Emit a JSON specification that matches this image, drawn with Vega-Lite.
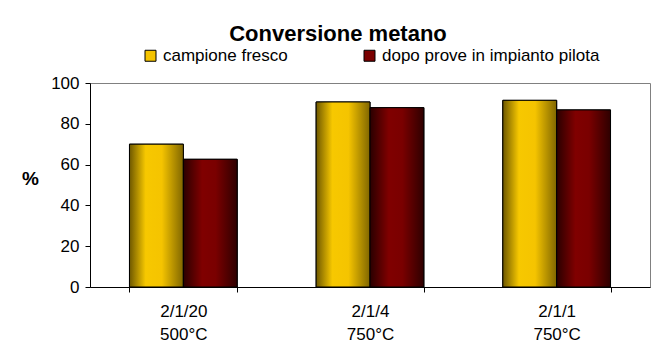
{
  "$schema": "https://vega.github.io/schema/vega-lite/v6.json",
  "width": 560,
  "height": 204,
  "autosize": {"type": "none"},
  "padding": {"left": 90, "top": 83, "right": 8, "bottom": 62},
  "background": "white",
  "title": {
    "text": "Conversione metano",
    "fontSize": 22,
    "fontWeight": "bold",
    "color": "black",
    "anchor": "middle",
    "dx": -32,
    "offset": 1
  },
  "data": {
    "values": [
      {"campione": "2/1/20\n500°C", "serie": "campione fresco", "conversione": 70.0},
      {"campione": "2/1/20\n500°C", "serie": "dopo prove in impianto pilota", "conversione": 62.6},
      {"campione": "2/1/4\n750°C", "serie": "campione fresco", "conversione": 90.7},
      {"campione": "2/1/4\n750°C", "serie": "dopo prove in impianto pilota", "conversione": 87.9},
      {"campione": "2/1/1\n750°C", "serie": "campione fresco", "conversione": 91.5},
      {"campione": "2/1/1\n750°C", "serie": "dopo prove in impianto pilota", "conversione": 86.8}
    ]
  },
  "encoding": {
    "x": {
      "field": "campione",
      "type": "nominal",
      "sort": null,
      "scale": {"paddingInner": 0.423, "paddingOuter": 0.2115},
      "axis": {
        "title": null,
        "labelAngle": 0,
        "tickBand": "extent",
        "domainColor": "black",
        "tickColor": "black",
        "tickSize": 5,
        "labelFontSize": 17,
        "labelColor": "black",
        "labelLineHeight": 23,
        "labelBaseline": "top",
        "labelPadding": 11,
        "labelExpr": "split(datum.label, '\\n')"
      }
    },
    "xOffset": {"field": "serie", "type": "nominal", "sort": null},
    "y": {
      "field": "conversione",
      "type": "quantitative",
      "scale": {"domain": [0, 100], "nice": false},
      "axis": {
        "values": [0, 20, 40, 60, 80, 100],
        "grid": false,
        "domainColor": "black",
        "tickColor": "black",
        "tickSize": 5,
        "labelFontSize": 17,
        "labelColor": "black",
        "labelPadding": 6,
        "title": "%",
        "titleFontSize": 19,
        "titleFontWeight": "bold",
        "titleColor": "black",
        "titleAngle": 0,
        "titleX": -60,
        "titleY": 95,
        "titleAlign": "center",
        "titleBaseline": "middle"
      }
    }
  },
  "layer": [
    {
      "mark": {"type": "bar", "stroke": "black", "strokeWidth": 1},
      "encoding": {
        "fill": {
          "field": "serie",
          "type": "nominal",
          "sort": null,
          "scale": {"range": ["#f5c400", "#7a0000"]},
          "legend": {
            "title": null,
            "orient": "none",
            "legendX": 52,
            "legendY": -36,
            "direction": "horizontal",
            "columns": 2,
            "columnPadding": 73,
            "padding": 0,
            "symbolType": "square",
            "symbolSize": 121,
            "symbolStrokeColor": "black",
            "symbolStrokeWidth": 1,
            "symbolOffset": 0,
            "symbolOpacity": 1,
            "labelOffset": 4,
            "labelLimit": 400,
            "labelFontSize": 17,
            "labelColor": "black"
          }
        }
      }
    },
    {
      "mark": {"type": "bar", "stroke": "black", "strokeWidth": 1},
      "encoding": {
        "fill": {
          "condition": {
            "test": "datum.serie === 'campione fresco'",
            "value": {"gradient": "linear", "x1": 0, "y1": 0, "x2": 1, "y2": 0,
              "stops": [
                {"offset": 0, "color": "#6e5800"},
                {"offset": 0.3, "color": "#f7c800"},
                {"offset": 0.6, "color": "#f5c400"},
                {"offset": 1, "color": "#806600"}
              ]}
          },
          "value": {"gradient": "linear", "x1": 0, "y1": 0, "x2": 1, "y2": 0,
            "stops": [
              {"offset": 0, "color": "#2a0000"},
              {"offset": 0.35, "color": "#800000"},
              {"offset": 0.6, "color": "#7a0000"},
              {"offset": 1, "color": "#2e0000"}
            ]}
        }
      }
    }
  ],
  "config": {
    "font": "Liberation Sans",
    "view": {"stroke": "#808080", "strokeWidth": 1}
  }
}
